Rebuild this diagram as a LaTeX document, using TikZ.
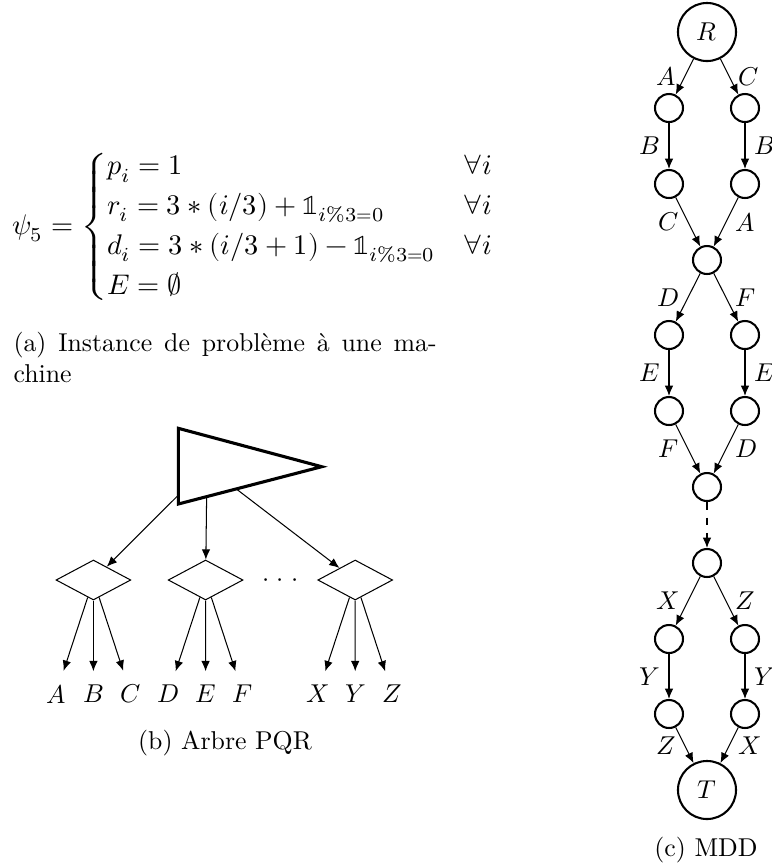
\documentclass[tikz,border=0pt]{standalone}
\usepackage{amsmath}
\usepackage{unicode-math}
\setmathfont{Latin Modern Math}
\usetikzlibrary{shapes.geometric,arrows.meta}

\begin{document}
\begin{tikzpicture}[x=0.3876pt, y=-0.3876pt, >={Latex[length=4pt,width=3.3pt]},
    state/.style={circle, draw, thick, minimum size=10.85pt, inner sep=0pt},
    term/.style={state, minimum size=22.5pt},
    qnode/.style={diamond, draw, minimum width=29pt, minimum height=15.5pt, inner sep=0pt},
    leaf/.style={inner xsep=2pt, inner ysep=5.2pt}]
  \useasboundingbox (0,0) rectangle (772,867);
  % (a) instance
  \node[anchor=base west, inner sep=0pt, font=\fontsize{11}{12.9}\selectfont] (inst) at (12,234) {$\displaystyle \psi_5 =
    \begin{cases}
      p_i = 1 & \forall i\\
      r_i = 3 * (i/3) + \mathbb{1}_{i\%3=0} & \forall i\\
      d_i = 3 * (i/3+1) - \mathbb{1}_{i\%3=0} & \forall i\\
      E = \emptyset
    \end{cases}$};
  \node[anchor=base west, align=left, inner sep=0pt] (capa) at (13,382)
    {\makebox[164pt][s]{(a) Instance de problème à une ma-}\\chine};
  % (b) PQR tree
  \coordinate (pqr) at (207,466.5);
  \node[qnode] (q1) at (93.4,580) {};
  \node[qnode] (q2) at (205.6,580) {};
  \node[qnode] (q3) at (355.2,580) {};
  \node[anchor=base] (dots) at (280.4,586.5) {${\cdot}\mkern5mu{\cdot}\mkern5mu{\cdot}$};
  \draw[->] (pqr) -- (q1);
  \draw[->] (pqr) -- (q2);
  \draw[->] (pqr) -- (q3);
  \draw[very thick, fill=white] (178.3,428.3) -- (321.7,466.7) -- (178.3,504) -- cycle;
  \foreach \l/\k in {A/0,B/1,C/2,D/3,E/4,F/5,X/7,Y/8,Z/9}
    \node[leaf] (leaf\l) at ({56+37.4*\k},694) {$\l$};
  \foreach \l in {A,B,C} \draw[->] (q1) -- (leaf\l);
  \foreach \l in {D,E,F} \draw[->] (q2) -- (leaf\l);
  \foreach \l in {X,Y,Z} \draw[->] (q3) -- (leaf\l);
  \node[anchor=base] (capb) at (225,749) {(b) Arbre PQR};
  % (c) MDD
  \node[term] (R) at (707,32) {$R$};
  \node[state] (lA) at (669,108) {};
  \node[state] (rC) at (745,108) {};
  \node[state] (lAB) at (669,184) {};
  \node[state] (rCB) at (745,184) {};
  \node[state] (m1) at (707,260) {};
  \node[state] (lD) at (669,335) {};
  \node[state] (rF) at (745,335) {};
  \node[state] (lDE) at (669,411) {};
  \node[state] (rFE) at (745,411) {};
  \node[state] (m2) at (707,487) {};
  \node[state] (m3) at (707,563) {};
  \node[state] (lX) at (669,639) {};
  \node[state] (rZ) at (745,639) {};
  \node[state] (lXY) at (669,714) {};
  \node[state] (rZY) at (745,714) {};
  \node[term] (T) at (707,790) {$T$};
  \draw[->] (R) -- node[left] {$A$} (lA);
  \draw[->] (R) -- node[right] {$C$} (rC);
  \draw[->] (lA) -- node[left] {$B$} (lAB);
  \draw[->] (rC) -- node[right] {$B$} (rCB);
  \draw[->] (lAB) -- node[left] {$C$} (m1);
  \draw[->] (rCB) -- node[right] {$A$} (m1);
  \draw[->] (m1) -- node[left] {$D$} (lD);
  \draw[->] (m1) -- node[right] {$F$} (rF);
  \draw[->] (lD) -- node[left] {$E$} (lDE);
  \draw[->] (rF) -- node[right] {$E$} (rFE);
  \draw[->] (lDE) -- node[left] {$F$} (m2);
  \draw[->] (rFE) -- node[right] {$D$} (m2);
  \draw[->, dashed] (m2) -- (m3);
  \draw[->] (m3) -- node[left] {$X$} (lX);
  \draw[->] (m3) -- node[right] {$Z$} (rZ);
  \draw[->] (lX) -- node[left] {$Y$} (lXY);
  \draw[->] (rZ) -- node[right] {$Y$} (rZY);
  \draw[->] (lXY) -- node[left] {$Z$} (T);
  \draw[->] (rZY) -- node[right] {$X$} (T);
  \node[anchor=base] (capc) at (706,856) {(c) MDD};
\end{tikzpicture}
\end{document}
